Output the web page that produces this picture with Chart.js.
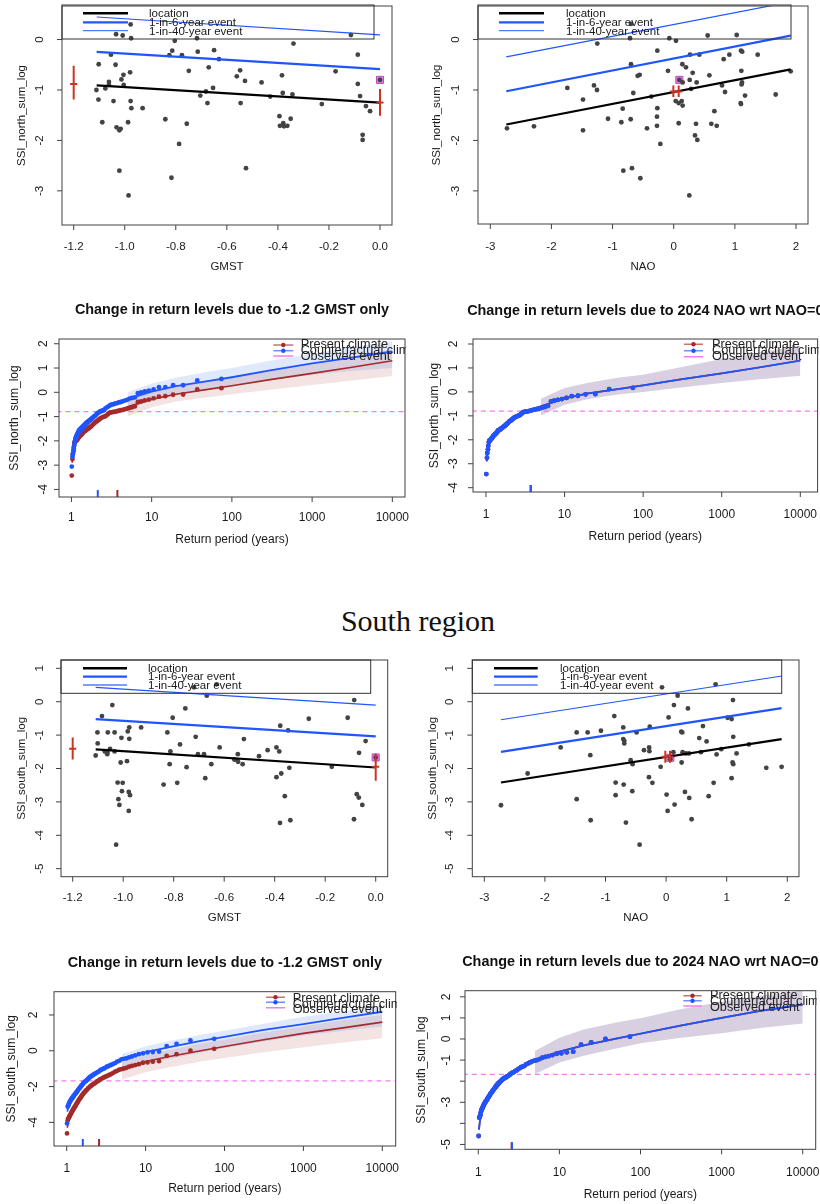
<!DOCTYPE html>
<html>
<head>
<meta charset="utf-8">
<script src="https://cdn.jsdelivr.net/npm/chart.js@4.4.0/dist/chart.umd.min.js"></script>
<style>
  body { margin: 0; background: #fff; width: 820px; height: 1204px; position: relative; overflow: hidden; }
  canvas { position: absolute; }
  #south { position: absolute; left: 0; top: 606px; width: 836px; text-align: center;
           font: 30px "Liberation Serif", "Times New Roman", serif; line-height: 30px; color: #111; }
</style>
</head>
<body>
<div id="south">South region</div>
<script>
const FONT = '"Liberation Sans", Arial, Helvetica, sans-serif';
const BLUE = '#1f55ff';
const RED = '#a52a2a';
const MAG = '#f27df2';
const ERR = '#cc3322';
const PT = '#434343';

// ---- tick labels ----
const gmstTicks = [-1.2, -1.0, -0.8, -0.6, -0.4, -0.2, 0.0];
const naoTicks = [-3, -2, -1, 0, 1, 2];
const periodTicks = [1, 10, 100, 1000, 10000];

// ---- scatter data [covariate, SSI] ----
const northGmst = [[-0.977,0.30],[-1.034,0.105],[-1.008,0.08],[-0.975,0.026],[-0.804,-0.026],[-0.717,0.026],[-0.114,0.09],[-0.339,-0.08],[-1.054,-0.30],[-0.825,-0.31],[-0.814,-0.22],[-0.776,-0.31],[-0.714,-0.24],[-0.650,-0.21],[-0.631,-0.39],[-0.087,-0.30],[-1.102,-0.49],[-1.036,-0.50],[-0.749,-0.62],[-0.671,-0.55],[-0.548,-0.61],[-0.561,-0.73],[-0.529,-0.82],[-0.464,-0.85],[-0.384,-0.71],[-0.174,-0.63],[0.0,-0.80],[-0.087,-0.88],[-0.979,-0.65],[-1.005,-0.70],[-1.013,-0.79],[-1.004,-0.90],[-1.062,-0.84],[-1.062,-0.90],[-1.076,-0.97],[-1.111,-1.00],[-1.103,-1.19],[-1.044,-1.22],[-0.977,-1.22],[-0.974,-1.36],[-0.930,-1.36],[-1.088,-1.64],[-1.032,-1.74],[-1.016,-1.77],[-1.021,-1.80],[-0.987,-1.64],[-0.841,-1.58],[-0.757,-1.67],[-0.654,-0.96],[-0.682,-1.03],[-0.704,-1.11],[-0.676,-1.26],[-0.546,-1.26],[-0.430,-1.13],[-0.381,-1.06],[-0.343,-1.09],[-0.394,-1.52],[-0.392,-1.71],[-0.379,-1.66],[-0.376,-1.72],[-0.363,-1.71],[-0.350,-1.57],[-0.228,-1.28],[-0.078,-1.12],[-0.055,-1.32],[-0.039,-1.42],[-0.068,-1.89],[-0.068,-1.99],[-0.787,-2.07],[-0.525,-2.55],[-1.021,-2.60],[-0.817,-2.74],[-0.985,-3.09]];

const northNao = [[-2.727,-1.76],[-2.286,-1.72],[-1.74,-0.96],[-1.484,-1.19],[-1.484,-1.80],[-1.304,-0.91],[-1.255,-1.00],[-1.25,-0.08],[-1.075,-1.57],[-0.857,-1.64],[-0.835,-1.37],[-0.824,-2.60],[-0.715,0.026],[-0.699,-0.49],[-0.704,-1.58],[-0.683,-2.55],[-0.59,-0.72],[-0.557,-0.70],[-0.661,-1.06],[-0.546,-2.75],[-0.437,-1.76],[-0.366,-1.13],[-0.274,-1.53],[-0.274,-1.71],[-0.268,-1.36],[-0.268,-0.22],[-0.219,-2.07],[-0.094,-0.62],[-0.072,0.026],[0.037,-0.026],[0.032,-1.22],[0.081,-1.26],[0.081,-1.66],[0.092,-0.80],[0.146,-0.85],[0.141,-0.49],[0.13,-1.22],[0.146,-1.31],[0.20,-0.55],[0.266,-0.30],[0.261,-0.80],[0.283,-0.98],[0.31,-0.66],[0.255,-3.09],[0.348,-1.90],[0.375,-0.85],[0.364,-1.67],[0.386,-1.99],[0.419,-0.30],[0.555,0.08],[0.583,-0.71],[0.615,-1.67],[0.665,-1.42],[0.703,-1.71],[0.79,-0.91],[0.817,-0.39],[0.839,-1.04],[0.910,-0.30],[1.03,0.09],[1.10,-0.22],[1.12,-0.24],[1.106,-0.62],[1.117,-0.85],[1.11,-0.89],[1.095,-1.26],[1.10,-1.28],[1.166,-1.11],[1.373,-0.30],[1.668,-1.09],[1.913,-0.63],[-0.70,0.31]];

const southGmst = [[-1.084,-0.43],[-1.043,-0.10],[-1.109,-1.61],[-1.102,-0.92],[-1.101,-1.25],[-1.073,-1.49],[-1.063,-1.57],[-1.063,-1.51],[-1.061,-0.92],[-1.052,-1.41],[-1.034,-0.92],[-1.034,-1.49],[-1.028,-4.28],[-1.019,-2.92],[-1.015,-3.09],[-1.022,-2.42],[-1.002,-2.43],[-1.010,-1.82],[-1.005,-2.68],[-1.007,-1.08],[-0.985,-1.78],[-0.982,-0.89],[-0.976,-0.77],[-0.976,-1.11],[-0.978,-2.70],[-0.973,-2.80],[-0.978,-3.27],[-0.929,-0.77],[-0.840,-2.48],[-0.825,-0.92],[-0.813,-1.49],[-0.816,-1.87],[-0.804,-0.48],[-0.786,-2.43],[-0.775,-1.28],[-0.754,-0.20],[-0.749,-1.96],[-0.713,-1.05],[-0.704,-1.57],[-0.680,-1.57],[-0.675,-2.29],[-0.669,0.18],[-0.63,0.52],[-0.72,0.43],[-0.651,-1.87],[-0.618,-1.37],[-0.560,-1.73],[-0.548,-1.75],[-0.546,-1.57],[-0.545,-1.80],[-0.527,-1.87],[-0.522,-1.12],[-0.462,-1.63],[-0.428,-1.45],[-0.393,-1.37],[-0.382,-1.49],[-0.393,-2.26],[-0.378,-0.72],[-0.374,-2.15],[-0.379,-3.63],[-0.360,-2.83],[-0.347,-0.86],[-0.342,-1.98],[-0.338,-3.55],[-0.265,-0.51],[-0.174,-1.95],[-0.111,-0.48],[-0.085,0.05],[-0.086,-3.52],[-0.075,-2.77],[-0.066,-1.53],[-0.067,-2.87],[-0.053,-3.09],[-0.040,-1.18],[0.0,-1.67]];

const southNao = [[-2.725,-3.10],[-2.285,-2.15],[-1.74,-1.37],[-1.476,-0.92],[-1.476,-2.92],[-1.295,-0.92],[-1.251,-1.60],[-1.245,-3.55],[-1.075,-0.87],[-0.855,-0.43],[-0.833,-2.42],[-0.833,-2.80],[-0.707,-0.77],[-0.707,-1.12],[-0.69,-1.17],[-0.69,-1.25],[-0.70,-2.48],[-0.663,-3.62],[-0.558,-2.68],[-0.585,-1.75],[-0.553,-1.87],[-0.487,-0.92],[-0.437,-4.28],[-0.365,-1.45],[-0.283,-2.26],[-0.28,-1.37],[-0.276,-1.48],[-0.27,-0.75],[-0.226,-2.43],[-0.09,-1.95],[-0.068,0.43],[0.008,-2.78],[0.025,-3.27],[0.041,-0.47],[0.069,-1.72],[0.12,-1.51],[0.129,-0.10],[0.14,-3.08],[0.19,0.18],[0.25,-0.90],[0.256,-1.82],[0.267,-0.92],[0.272,-1.51],[0.311,-2.70],[0.327,-1.55],[0.36,-0.20],[0.377,-1.55],[0.382,-2.88],[0.421,-3.52],[0.547,-1.09],[0.575,-1.51],[0.608,-0.73],[0.668,-1.19],[0.702,-2.83],[0.784,-2.43],[0.817,0.52],[0.833,-1.58],[0.91,-1.42],[1.015,-0.48],[1.081,-0.52],[1.081,-2.29],[1.103,0.05],[1.108,-1.05],[1.097,-1.82],[1.108,-1.87],[1.163,-1.55],[1.367,-1.28],[1.653,-1.98],[1.906,-1.95]];

// fitted trend lines (start, end)
const northGmstLoc = [[-1.11,-0.91],[0,-1.25]];
const northGmst6 = [[-1.11,-0.243],[0,-0.586]];
const northGmst40 = [[-1.11,0.447],[0,0.092]];
const northNaoLoc = [[-2.738,-1.684],[1.913,-0.592]];
const northNao6 = [[-2.738,-1.026],[1.913,0.079]];
const northNao40 = [[-2.738,-0.342],[1.913,0.746]];
const southGmstLoc = [[-1.109,-1.43],[0,-1.97]];
const southGmst6 = [[-1.109,-0.52],[0,-1.04]];
const southGmst40 = [[-1.109,0.43],[0,-0.10]];
const southNaoLoc = [[-2.725,-2.42],[1.906,-1.12]];
const southNao6 = [[-2.725,-1.50],[1.906,-0.19]];
const southNao40 = [[-2.725,-0.54],[1.906,0.77]];

// location uncertainty bars [x, low, mid, high]
const northGmstBars = [[-1.2,-1.19,-0.88,-0.52],[0.0,-1.51,-1.25,-0.98]];
const northNaoBars = [[-0.006,-1.14,-1.03,-0.91],[0.081,-1.14,-1.03,-0.91]];
const southGmstBars = [[-1.2,-1.73,-1.41,-1.07],[0.0,-2.37,-1.95,-1.55]];
const southNaoBars = [[-0.013,-1.83,-1.65,-1.47],[0.064,-1.83,-1.65,-1.47]];

// 2024 event
const northEvent = -0.80;
const southEvent = -1.68;
const northGmstEvent = [0.0, -0.80];
const northNaoEvent = [0.092, -0.80];
const southGmstEvent = [0.0, -1.67];
const southNaoEvent = [0.07, -1.68];

// ---- return level data ----
const retPeriod = [74, 37, 24.67, 18.5, 14.8, 12.33, 10.57, 9.25, 8.22, 7.4,
  6.73, 6.17, 5.69, 5.29, 4.93, 4.63, 4.35, 4.11, 3.89, 3.7,
  3.52, 3.36, 3.22, 3.08, 2.96, 2.85, 2.74, 2.64, 2.55, 2.47,
  2.39, 2.31, 2.24, 2.18, 2.11, 2.06, 2.0, 1.95, 1.9, 1.85,
  1.8, 1.76, 1.72, 1.68, 1.64, 1.61, 1.57, 1.54, 1.51, 1.48,
  1.45, 1.42, 1.4, 1.37, 1.35, 1.32, 1.3, 1.28, 1.25, 1.23,
  1.21, 1.19, 1.17, 1.16, 1.14, 1.12, 1.1, 1.09, 1.07, 1.06,
  1.04, 1.03, 1.01];

const northPresent = [0.17, 0.12, -0.09, -0.10, -0.16, -0.18, -0.25, -0.30, -0.33, -0.37,
  -0.40, -0.58, -0.62, -0.65, -0.68, -0.70, -0.72, -0.74, -0.76, -0.78,
  -0.80, -0.81, -0.82, -0.83, -0.85, -0.90, -0.95, -0.99, -1.00, -1.02,
  -1.04, -1.07, -1.10, -1.14, -1.17, -1.20, -1.22, -1.26, -1.30, -1.33,
  -1.37, -1.40, -1.43, -1.45, -1.48, -1.50, -1.52, -1.55, -1.57, -1.59,
  -1.60, -1.62, -1.66, -1.70, -1.73, -1.75, -1.77, -1.80, -1.83, -1.86,
  -1.90, -1.93, -1.96, -1.98, -2.00, -2.02, -2.05, -2.10, -2.25, -2.40,
  -2.55, -2.75, -3.43];

const northCounter = [0.55, 0.49, 0.29, 0.29, 0.21, 0.21, 0.12, 0.07, 0.04, 0.0,
  -0.04, -0.21, -0.23, -0.26, -0.31, -0.34, -0.37, -0.40, -0.42, -0.45,
  -0.46, -0.49, -0.50, -0.52, -0.56, -0.60, -0.63, -0.67, -0.73, -0.75,
  -0.77, -0.78, -0.81, -0.84, -0.86, -0.90, -0.95, -0.98, -1.00, -1.04,
  -1.08, -1.11, -1.14, -1.17, -1.19, -1.22, -1.25, -1.28, -1.30, -1.35,
  -1.39, -1.41, -1.44, -1.48, -1.51, -1.55, -1.59, -1.61, -1.63, -1.66,
  -1.69, -1.73, -1.79, -1.83, -1.87, -1.92, -2.03, -2.17, -2.31, -2.45,
  -2.54, -2.65, -3.06];

const southPresentG = [0.11, 0.0, -0.19, -0.28, -0.58, -0.61, -0.65, -0.67, -0.75, -0.80,
  -0.84, -0.89, -0.95, -0.99, -1.02, -1.06, -1.12, -1.17, -1.23, -1.29,
  -1.34, -1.38, -1.42, -1.45, -1.49, -1.53, -1.57, -1.60, -1.66, -1.70,
  -1.73, -1.79, -1.83, -1.86, -1.90, -1.94, -1.98, -2.03, -2.07, -2.12,
  -2.18, -2.22, -2.27, -2.31, -2.37, -2.42, -2.48, -2.53, -2.59, -2.65,
  -2.70, -2.76, -2.81, -2.87, -2.93, -2.98, -3.06, -3.11, -3.17, -3.22,
  -3.28, -3.32, -3.37, -3.43, -3.48, -3.54, -3.61, -3.65, -3.71, -3.76,
  -3.80, -3.90, -4.62];

const southCounterG = [0.67, 0.58, 0.39, 0.26, -0.04, -0.07, -0.09, -0.15, -0.19, -0.26,
  -0.32, -0.37, -0.43, -0.45, -0.48, -0.56, -0.61, -0.69, -0.73, -0.78,
  -0.82, -0.86, -0.89, -0.95, -0.99, -1.02, -1.06, -1.10, -1.16, -1.19,
  -1.23, -1.27, -1.30, -1.34, -1.38, -1.42, -1.45, -1.49, -1.53, -1.58,
  -1.64, -1.68, -1.71, -1.75, -1.79, -1.84, -1.90, -1.94, -1.99, -2.05,
  -2.09, -2.14, -2.18, -2.24, -2.29, -2.33, -2.38, -2.42, -2.46, -2.52,
  -2.55, -2.61, -2.65, -2.68, -2.72, -2.78, -2.83, -2.87, -2.94, -3.02,
  -3.07, -3.13, -4.06];

const southPresent = [0.11, 0.0, -0.16, -0.27, -0.60, -0.63, -0.68, -0.70, -0.76, -0.81,
  -0.85, -0.89, -0.95, -1.00, -1.03, -1.06, -1.11, -1.16, -1.20, -1.27,
  -1.31, -1.34, -1.39, -1.44, -1.49, -1.52, -1.57, -1.60, -1.63, -1.68,
  -1.72, -1.76, -1.79, -1.82, -1.84, -1.87, -1.90, -1.95, -1.99, -2.04,
  -2.07, -2.10, -2.15, -2.20, -2.26, -2.31, -2.36, -2.41, -2.45, -2.50,
  -2.55, -2.59, -2.64, -2.69, -2.74, -2.78, -2.83, -2.88, -2.93, -2.97,
  -3.02, -3.07, -3.12, -3.16, -3.21, -3.29, -3.34, -3.40, -3.50, -3.61,
  -3.69, -3.73, -4.60];

// fitted return level curves
const fitPeriod = [1.02, 1.05, 1.1, 1.2, 1.5, 2, 3, 5, 10, 20, 50, 100, 300, 1000, 3000, 10000];
const northPresentFit = [-2.9, -2.45, -2.1, -1.85, -1.52, -1.22, -0.9, -0.6, -0.29, -0.08, 0.12, 0.27, 0.52, 0.78, 1.02, 1.30];
const northCounterFit = [-2.55, -2.1, -1.8, -1.52, -1.2, -0.9, -0.58, -0.28, 0.03, 0.25, 0.46, 0.62, 0.9, 1.19, 1.42, 1.68];
const northNaoFit = [-2.9, -2.45, -2.1, -1.85, -1.52, -1.22, -0.9, -0.6, -0.27, -0.06, 0.13, 0.27, 0.52, 0.77, 1.02, 1.31];
const southPresentFitG = [-4.3, -3.8, -3.5, -3.15, -2.55, -2.0, -1.45, -0.98, -0.6, -0.32, 0.0, 0.24, 0.6, 0.97, 1.27, 1.60];
const southCounterFitG = [-3.4, -3.05, -2.8, -2.5, -1.95, -1.45, -0.95, -0.5, -0.08, 0.2, 0.55, 0.78, 1.15, 1.49, 1.82, 2.18];
const southNaoFit = [-4.3, -3.85, -3.5, -3.15, -2.55, -2.0, -1.45, -1.0, -0.6, -0.3, 0.02, 0.25, 0.62, 1.0, 1.33, 1.63];

// confidence bands
const bandPeriod = [5, 10, 20, 50, 100, 300, 1000, 3000, 10000];
const northPresentLo = [-1.0, -0.62, -0.38, -0.2, -0.08, 0.1, 0.3, 0.48, 0.67];
const northPresentHi = [-0.32, 0.05, 0.28, 0.5, 0.65, 0.92, 1.2, 1.48, 1.75];
const northCounterLo = [-0.72, -0.32, -0.1, 0.12, 0.28, 0.5, 0.72, 0.88, 1.0];
const northCounterHi = [0.0, 0.35, 0.6, 0.85, 1.0, 1.3, 1.6, 1.85, 2.1];
const northNaoLo = [-0.99, -0.54, -0.3, -0.1, 0.0, 0.18, 0.37, 0.53, 0.67];
const northNaoHi = [-0.29, 0.16, 0.38, 0.6, 0.72, 1.03, 1.37, 1.65, 1.93];
const southPresentLoG = [-1.6, -1.2, -0.92, -0.6, -0.4, -0.1, 0.2, 0.45, 0.7];
const southPresentHiG = [-0.65, -0.25, 0.05, 0.4, 0.62, 1.0, 1.35, 1.7, 2.0];
const southCounterLoG = [-1.2, -0.75, -0.45, -0.1, 0.15, 0.5, 0.85, 1.1, 1.35];
const southCounterHiG = [-0.2, 0.25, 0.55, 0.9, 1.12, 1.5, 1.9, 2.2, 2.5];
const southNaoLo = [-1.66, -1.12, -0.8, -0.45, -0.2, 0.05, 0.27, 0.52, 0.74];
const southNaoHi = [-0.57, 0.06, 0.45, 0.78, 0.98, 1.4, 1.77, 2.05, 2.3];

// return period of the observed event [present, counterfactual]
const northGmstRP = [3.74, 2.13];
const northNaoRP = [3.70, 3.72];
const southGmstRP = [2.57, 1.6];
const southNaoRP = [2.58, 2.6];

// ---- dataset helpers ----
function xy(xs, ys) { return xs.map((x, i) => ({ x: x, y: ys[i] })); }
function pairs(p) { return p.map(d => ({ x: d[0], y: d[1] })); }

function lineSet(data, color, width, order, dash) {
  return { data: data, showLine: true, borderColor: color, borderWidth: width, borderDash: dash || [],
           pointRadius: 0, pointHoverRadius: 0, fill: false, order: order };
}
function pointSet(data, color, r, order) {
  return { data: data, showLine: false, pointRadius: r, pointHoverRadius: r, pointBackgroundColor: color,
           pointBorderColor: color, pointBorderWidth: 0, borderColor: color, order: order };
}
function bandSets(xs, lo, hi, color) {
  return [
    { data: xy(xs, lo), showLine: true, borderColor: 'rgba(0,0,0,0)', borderWidth: 1, pointRadius: 0, fill: false, order: 10 },
    { data: xy(xs, hi), showLine: true, borderColor: 'rgba(0,0,0,0)', borderWidth: 1, pointRadius: 0, fill: '-1', backgroundColor: color, order: 10 }
  ];
}

function scatterSets(points, loc, rp6, rp40, ev) {
  return [
    lineSet(pairs(loc), '#000', 2.2, 1),
    lineSet(pairs(rp6), BLUE, 2.2, 1),
    lineSet(pairs(rp40), BLUE, 1.2, 1),
    pointSet(pairs(points), PT, 2.4, 3),
    { data: [{ x: ev[0], y: ev[1] }], showLine: false, pointStyle: 'rect', pointRadius: 5,
      pointBackgroundColor: 'rgba(232,110,232,0.9)', pointBorderColor: '#b84db8', pointBorderWidth: 1, order: 4 }
  ];
}

function returnSets(r) {
  return [
    ...bandSets(bandPeriod, r.pLo, r.pHi, 'rgba(165,42,42,0.13)'),
    ...bandSets(bandPeriod, r.cLo, r.cHi, 'rgba(60,120,230,0.16)'),
    lineSet([{ x: 0.3, y: r.ev }, { x: 30000, y: r.ev }], MAG, 1.2, 8, [5, 4]),
    lineSet(xy(fitPeriod, r.pFit), RED, 1.7, 6),
    lineSet(xy(fitPeriod, r.cFit), BLUE, 1.8, 5),
    pointSet(xy(retPeriod, r.pPts), RED, 2.4, 3),
    pointSet(xy(retPeriod, r.cPts), BLUE, 2.4, 2)
  ];
}

// ---- frame / axes / legend drawn the R way ----
function framePlugin(p) {
  return {
    id: 'rframe',
    afterDatasetsDraw(chart) {
      const ctx = chart.ctx, a = chart.chartArea, sx = chart.scales.x, sy = chart.scales.y;
      ctx.save();
      ctx.beginPath(); ctx.rect(a.left, a.top, a.right - a.left, a.bottom - a.top); ctx.clip();
      (p.bars || []).forEach(b => {
        const px = sx.getPixelForValue(b[0]);
        const pm = sy.getPixelForValue(b[2]);
        ctx.strokeStyle = ERR; ctx.lineWidth = 2;
        ctx.beginPath();
        ctx.moveTo(px, sy.getPixelForValue(b[1])); ctx.lineTo(px, sy.getPixelForValue(b[3]));
        ctx.moveTo(px - 3.5, pm); ctx.lineTo(px + 3.5, pm);
        ctx.stroke();
      });
      if (p.rp) {
        [[p.rp[0], RED, 0], [p.rp[1], BLUE, 0]].forEach(r => {
          const px = sx.getPixelForValue(r[0]);
          ctx.strokeStyle = r[1]; ctx.lineWidth = 2;
          ctx.beginPath(); ctx.moveTo(px, a.bottom); ctx.lineTo(px, a.bottom - 7); ctx.stroke();
        });
      }
      ctx.restore();
    },
    afterDraw(chart) {
      const ctx = chart.ctx, a = chart.chartArea, sx = chart.scales.x, sy = chart.scales.y;
      const ox = p.canvas[0], oy = p.canvas[1];
      const fs = p.font;
      ctx.save();
      ctx.strokeStyle = '#404040'; ctx.lineWidth = 1;
      ctx.strokeRect(a.left, a.top, a.right - a.left, a.bottom - a.top);
      ctx.fillStyle = '#1a1a1a';
      ctx.font = fs + 'px ' + FONT;
      ctx.textAlign = 'center'; ctx.textBaseline = 'middle';
      // x axis
      ctx.beginPath();
      p.x.ticks.forEach((v, i) => {
        const px = sx.getPixelForValue(v);
        ctx.moveTo(px, a.bottom); ctx.lineTo(px, a.bottom + 5);
        ctx.fillText(p.x.labels ? p.x.labels[i] : String(v), px, p.x.labelY - oy);
      });
      ctx.stroke();
      ctx.fillText(p.x.title, (a.left + a.right) / 2, p.x.titleY - oy);
      // y axis
      ctx.beginPath();
      p.y.ticks.forEach((v, i) => {
        const py = sy.getPixelForValue(v);
        ctx.moveTo(a.left, py); ctx.lineTo(a.left - 5, py);
        const lab = p.y.labels ? p.y.labels[i] : String(v);
        if (lab) {
          ctx.save(); ctx.translate(p.y.labelX - ox, py); ctx.rotate(-Math.PI / 2);
          ctx.fillText(lab, 0, 0); ctx.restore();
        }
      });
      ctx.stroke();
      ctx.save(); ctx.translate(p.y.titleX - ox, (a.top + a.bottom) / 2); ctx.rotate(-Math.PI / 2);
      ctx.fillText(p.y.title, 0, 0); ctx.restore();
      // title
      if (p.title) {
        ctx.font = 'bold 14.4px ' + FONT;
        ctx.fillStyle = '#111';
        ctx.fillText(p.title.text, (a.left + a.right) / 2, p.title.y - oy);
      }
      // legend
      const L = p.legend;
      if (L.kind === 'fit') {
        ctx.strokeStyle = '#333'; ctx.lineWidth = 1;
        ctx.strokeRect(L.box[0] - ox, L.box[1] - oy, L.box[2] - L.box[0], L.box[3] - L.box[1]);
        const items = [['location', '#000', 2.6], ['1-in-6-year event', BLUE, 2.2], ['1-in-40-year event', '#4f7dff', 1.3]];
        ctx.font = '11.5px ' + FONT; ctx.textAlign = 'left'; ctx.fillStyle = '#1a1a1a';
        items.forEach((it, i) => {
          ctx.strokeStyle = it[1]; ctx.lineWidth = it[2];
          ctx.beginPath(); ctx.moveTo(L.x1 - ox, L.rows[i] - oy); ctx.lineTo(L.x2 - ox, L.rows[i] - oy); ctx.stroke();
          ctx.fillText(it[0], L.textX - ox, L.textRows[i] - oy);
        });
      } else {
        ctx.save();
        ctx.beginPath(); ctx.rect(a.left, a.top, a.right - a.left + 1, a.bottom - a.top); ctx.clip();
        const items = [['Present climate', 'rgba(165,42,42,0.65)', RED], ['Counterfactual climate', 'rgba(31,85,255,0.65)', BLUE], ['Observed event', MAG, null]];
        ctx.font = '12.7px ' + FONT; ctx.textAlign = 'left'; ctx.fillStyle = '#222';
        items.forEach((it, i) => {
          const y = L.rows[i] - oy;
          ctx.strokeStyle = it[1]; ctx.lineWidth = 1.5;
          ctx.beginPath(); ctx.moveTo(L.x1 - ox, y); ctx.lineTo(L.x2 - ox, y); ctx.stroke();
          if (it[2]) {
            ctx.fillStyle = it[2];
            ctx.beginPath(); ctx.arc((L.x1 + L.x2) / 2 - ox, y, 2.2, 0, Math.PI * 2); ctx.fill();
            ctx.fillStyle = '#222';
          }
          ctx.fillText(it[0], L.textX - ox, L.textRows[i] - oy);
        });
        ctx.restore();
      }
      ctx.restore();
    }
  };
}

// ---- panel layout ----
const gmstLabels = gmstTicks.map(v => v.toFixed(1));
const panels = [
  { canvas: [0, 0, 410, 290], area: [62, 5, 392, 225], font: 11.5,
    x: { type: 'linear', min: -1.2458, max: 0.047, ticks: gmstTicks, labels: gmstLabels, labelY: 247, title: 'GMST', titleY: 266.7 },
    y: { min: -3.677, max: 0.665, ticks: [-3, -2, -1, 0], labelX: 40, title: 'SSI_north_sum_log', titleX: 21.7 },
    legend: { kind: 'fit', box: [62, 5, 374, 39], x1: 83, x2: 128, rows: [13.3, 22.3, 30.7], textX: 149, textRows: [14.3, 23.3, 32] },
    bars: northGmstBars,
    sets: scatterSets(northGmst, northGmstLoc, northGmst6, northGmst40, northGmstEvent) },
  { canvas: [410, 0, 410, 290], area: [478, 5, 808, 224], font: 11.5,
    x: { type: 'linear', min: -3.201, max: 2.196, ticks: naoTicks, labelY: 247, title: 'NAO', titleY: 266.7 },
    y: { min: -3.657, max: 0.665, ticks: [-3, -2, -1, 0], labelX: 456, title: 'SSI_north_sum_log', titleX: 436.7 },
    legend: { kind: 'fit', box: [478, 5, 791, 39], x1: 499, x2: 544, rows: [13.3, 22.3, 30.7], textX: 566, textRows: [14.3, 23.3, 32] },
    bars: northNaoBars,
    sets: scatterSets(northNao, northNaoLoc, northNao6, northNao40, northNaoEvent) },
  { canvas: [0, 290, 410, 280], area: [59, 339, 405, 497], font: 12,
    x: { type: 'logarithmic', min: 0.709, max: 14380, ticks: periodTicks, labelY: 518, title: 'Return period (years)', titleY: 540 },
    y: { min: -4.312, max: 2.195, ticks: [-4, -3, -2, -1, 0, 1, 2], labelX: 43.3, title: 'SSI_north_sum_log', titleX: 15 },
    title: { text: 'Change in return levels due to -1.2 GMST only', y: 310 },
    legend: { kind: 'rl', x1: 273.3, x2: 293.3, rows: [345, 350.7, 356], textX: 300.7, textRows: [344, 350.7, 356.7] },
    rp: northGmstRP,
    sets: returnSets({ pLo: northPresentLo, pHi: northPresentHi, cLo: northCounterLo, cHi: northCounterHi, ev: northEvent,
      pFit: northPresentFit, cFit: northCounterFit, pPts: northPresent, cPts: northCounter }) },
  { canvas: [410, 290, 410, 280], area: [473, 339, 818, 492], font: 12,
    x: { type: 'logarithmic', min: 0.684, max: 16600, ticks: periodTicks, labelY: 515, title: 'Return period (years)', titleY: 536.7 },
    y: { min: -4.18, max: 2.209, ticks: [-4, -3, -2, -1, 0, 1, 2], labelX: 453.3, title: 'SSI_north_sum_log', titleX: 435 },
    title: { text: 'Change in return levels due to 2024 NAO wrt NAO=0', y: 310.7 },
    legend: { kind: 'rl', x1: 684, x2: 703, rows: [344.3, 350.7, 356.7], textX: 712, textRows: [344, 350.7, 356.7] },
    rp: northNaoRP,
    sets: returnSets({ pLo: northNaoLo, pHi: northNaoHi, cLo: northNaoLo, cHi: northNaoHi, ev: northEvent,
      pFit: northNaoFit, cFit: northNaoFit, pPts: northPresent, cPts: northPresent }) },
  { canvas: [0, 640, 410, 290], area: [61, 660, 387.7, 876.7], font: 11.5,
    x: { type: 'linear', min: -1.2463, max: 0.0475, ticks: gmstTicks, labels: gmstLabels, labelY: 898.3, title: 'GMST', titleY: 918.3 },
    y: { min: -5.24, max: 1.249, ticks: [-5, -4, -3, -2, -1, 0, 1], labelX: 40, title: 'SSI_south_sum_log', titleX: 21.7 },
    legend: { kind: 'fit', box: [61, 660, 370.7, 693.3], x1: 83, x2: 127, rows: [668.3, 676.7, 685], textX: 148, textRows: [669.3, 677, 685.7] },
    bars: southGmstBars,
    sets: scatterSets(southGmst, southGmstLoc, southGmst6, southGmst40, southGmstEvent) },
  { canvas: [410, 640, 410, 290], area: [472.3, 660, 799, 876.7], font: 11.5,
    x: { type: 'linear', min: -3.198, max: 2.193, ticks: naoTicks, labelY: 898.3, title: 'NAO', titleY: 918.3 },
    y: { min: -5.24, max: 1.249, ticks: [-5, -4, -3, -2, -1, 0, 1], labelX: 450, title: 'SSI_south_sum_log', titleX: 433.3 },
    legend: { kind: 'fit', box: [472.3, 660, 781.7, 693.3], x1: 494, x2: 537.7, rows: [668.3, 676.7, 685], textX: 560, textRows: [669.3, 677, 685.7] },
    bars: southNaoBars,
    sets: scatterSets(southNao, southNaoLoc, southNao6, southNao40, southNaoEvent) },
  { canvas: [0, 935, 410, 269], area: [54, 991.7, 395.7, 1146], font: 12,
    x: { type: 'logarithmic', min: 0.690, max: 14790, ticks: periodTicks, labelY: 1168.3, title: 'Return period (years)', titleY: 1188.3 },
    y: { min: -5.32, max: 3.30, ticks: [-4, -2, 0, 2], labelX: 33.3, title: 'SSI_south_sum_log', titleX: 11.7 },
    title: { text: 'Change in return levels due to -1.2 GMST only', y: 963.3 },
    legend: { kind: 'rl', x1: 266, x2: 285, rows: [997.3, 1002.3, 1007.7], textX: 292.7, textRows: [998.3, 1004, 1009] },
    rp: southGmstRP,
    sets: returnSets({ pLo: southPresentLoG, pHi: southPresentHiG, cLo: southCounterLoG, cHi: southCounterHiG, ev: southEvent,
      pFit: southPresentFitG, cFit: southCounterFitG, pPts: southPresentG, cPts: southCounterG }) },
  { canvas: [410, 935, 410, 269], area: [465, 990.7, 815.7, 1149.3], font: 12,
    x: { type: 'logarithmic', min: 0.686, max: 14460, ticks: periodTicks, labelY: 1172.3, title: 'Return period (years)', titleY: 1195 },
    y: { min: -5.23, max: 2.29, ticks: [-5, -4, -3, -2, -1, 0, 1, 2], labels: ['-5', '', '-3', '', '-1', '0', '1', '2'], labelX: 446.7, title: 'SSI_south_sum_log', titleX: 421.7 },
    title: { text: 'Change in return levels due to 2024 NAO wrt NAO=0', y: 961.7 },
    legend: { kind: 'rl', x1: 683.3, x2: 701.7, rows: [995.7, 1000.7, 1006], textX: 710, textRows: [995, 1001, 1007] },
    rp: southNaoRP,
    sets: returnSets({ pLo: southNaoLo, pHi: southNaoHi, cLo: southNaoLo, cHi: southNaoHi, ev: southEvent,
      pFit: southNaoFit, cFit: southNaoFit, pPts: southPresent, cPts: southPresent }) }
];

panels.forEach(p => {
  const cv = document.createElement('canvas');
  const [cx, cy, cw, ch] = p.canvas;
  cv.width = cw; cv.height = ch;
  cv.style.left = cx + 'px'; cv.style.top = cy + 'px';
  cv.style.width = cw + 'px'; cv.style.height = ch + 'px';
  document.body.appendChild(cv);
  new Chart(cv.getContext('2d'), {
    type: 'line',
    data: { datasets: p.sets },
    options: {
      responsive: false,
      animation: false,
      devicePixelRatio: 1,
      events: [],
      layout: { padding: { left: p.area[0] - cx, top: p.area[1] - cy, right: cx + cw - p.area[2], bottom: cy + ch - p.area[3] } },
      plugins: { legend: { display: false }, tooltip: { enabled: false } },
      scales: {
        x: { type: p.x.type, min: p.x.min, max: p.x.max, display: false },
        y: { type: 'linear', min: p.y.min, max: p.y.max, display: false }
      }
    },
    plugins: [framePlugin(p)]
  });
});
</script>
</body>
</html>
